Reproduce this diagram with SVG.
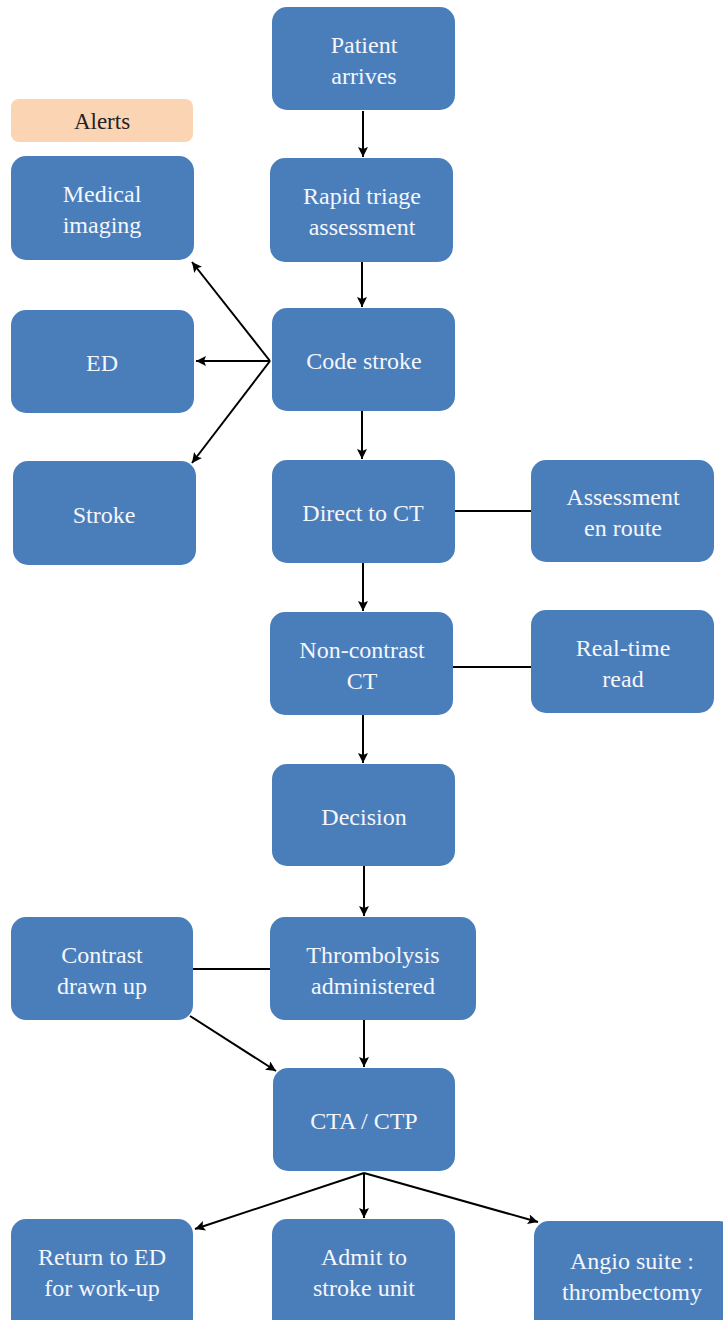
<svg xmlns="http://www.w3.org/2000/svg" width="723" height="1320" viewBox="0 0 723 1320">
<defs>
<marker id="ah" viewBox="0 0 10 10" refX="10" refY="5" markerWidth="10" markerHeight="10" markerUnits="userSpaceOnUse" orient="auto">
<path d="M0,0 L10,5 L0,10 L2,5 Z" fill="#000"/>
</marker>
<style>
.b{fill:#4a7ebb;}
.a{fill:#fbd4b4;}
text{font-family:'Liberation Serif','Times New Roman',serif;font-size:24px;text-anchor:middle;}
.t{fill:#f4f6fb;}
.k{fill:#222;font-size:23px;}
.c line{stroke:#000;stroke-width:2;}
.c .ar{marker-end:url(#ah);}
</style>
</defs>
<rect width="723" height="1320" fill="#fff"/>
<g class="c" id="connectors">
<line class="ar" x1="363" y1="111" x2="363" y2="157"/>
<line class="ar" x1="362" y1="262" x2="362" y2="307"/>
<line class="ar" x1="270" y1="361" x2="192" y2="262"/>
<line class="ar" x1="270" y1="361" x2="196" y2="361"/>
<line class="ar" x1="270" y1="361" x2="192" y2="463"/>
<line class="ar" x1="362" y1="411" x2="362" y2="459"/>
<line x1="455" y1="511" x2="531" y2="511"/>
<line class="ar" x1="363" y1="563" x2="363" y2="611"/>
<line x1="453" y1="667" x2="531" y2="667"/>
<line class="ar" x1="363" y1="715" x2="363" y2="763"/>
<line class="ar" x1="364" y1="866" x2="364" y2="916"/>
<line x1="193" y1="969" x2="270" y2="969"/>
<line class="ar" x1="190" y1="1016" x2="276" y2="1071"/>
<line class="ar" x1="364" y1="1020" x2="364" y2="1067"/>
<line class="ar" x1="364" y1="1173" x2="195" y2="1229"/>
<line class="ar" x1="364" y1="1173" x2="364" y2="1218"/>
<line class="ar" x1="364" y1="1173" x2="538" y2="1222"/>
</g>
<g id="patient"><rect class="b" x="272" y="7" width="183" height="103" rx="15"/><text class="t" x="364" y="53">Patient</text><text class="t" x="364" y="84">arrives</text></g>
<g id="triage"><rect class="b" x="270" y="158" width="183" height="104" rx="15"/><text class="t" x="362" y="204">Rapid triage</text><text class="t" x="362" y="235">assessment</text></g>
<g id="codestroke"><rect class="b" x="272" y="308" width="183" height="103" rx="15"/><text class="t" x="364" y="369">Code stroke</text></g>
<g id="alerts"><rect class="a" x="11" y="99" width="182" height="43" rx="8"/><text class="k" x="102" y="129">Alerts</text></g>
<g id="imaging"><rect class="b" x="11" y="156" width="183" height="104" rx="15"/><text class="t" x="102" y="202">Medical</text><text class="t" x="102" y="233">imaging</text></g>
<g id="ed"><rect class="b" x="11" y="310" width="183" height="103" rx="15"/><text class="t" x="102" y="371">ED</text></g>
<g id="stroke"><rect class="b" x="13" y="461" width="183" height="104" rx="15"/><text class="t" x="104" y="523">Stroke</text></g>
<g id="directct"><rect class="b" x="272" y="460" width="183" height="103" rx="15"/><text class="t" x="363" y="521">Direct to CT</text></g>
<g id="enroute"><rect class="b" x="531" y="460" width="183" height="102" rx="15"/><text class="t" x="623" y="505">Assessment</text><text class="t" x="623" y="536">en route</text></g>
<g id="noncontrast"><rect class="b" x="270" y="612" width="183" height="103" rx="15"/><text class="t" x="362" y="658">Non-contrast</text><text class="t" x="362" y="689">CT</text></g>
<g id="realtime"><rect class="b" x="531" y="610" width="183" height="103" rx="15"/><text class="t" x="623" y="656">Real-time</text><text class="t" x="623" y="687">read</text></g>
<g id="decision"><rect class="b" x="272" y="764" width="183" height="102" rx="15"/><text class="t" x="364" y="825">Decision</text></g>
<g id="thrombolysis"><rect class="b" x="270" y="917" width="206" height="103" rx="15"/><text class="t" x="373" y="963">Thrombolysis</text><text class="t" x="373" y="994">administered</text></g>
<g id="contrast"><rect class="b" x="11" y="917" width="182" height="103" rx="15"/><text class="t" x="102" y="963">Contrast</text><text class="t" x="102" y="994">drawn up</text></g>
<g id="cta"><rect class="b" x="273" y="1068" width="182" height="103" rx="15"/><text class="t" x="364" y="1129">CTA / CTP</text></g>
<g id="returned"><rect class="b" x="11" y="1219" width="182" height="115" rx="15"/><text class="t" x="102" y="1265">Return to ED</text><text class="t" x="102" y="1296">for work-up</text></g>
<g id="admit"><rect class="b" x="272" y="1219" width="183" height="115" rx="15"/><text class="t" x="364" y="1265">Admit to</text><text class="t" x="364" y="1296">stroke unit</text></g>
<g id="angio"><rect class="b" x="534" y="1221" width="200" height="115" rx="15"/><text class="t" x="632" y="1269">Angio suite :</text><text class="t" x="632" y="1300">thrombectomy</text></g>
</svg>
